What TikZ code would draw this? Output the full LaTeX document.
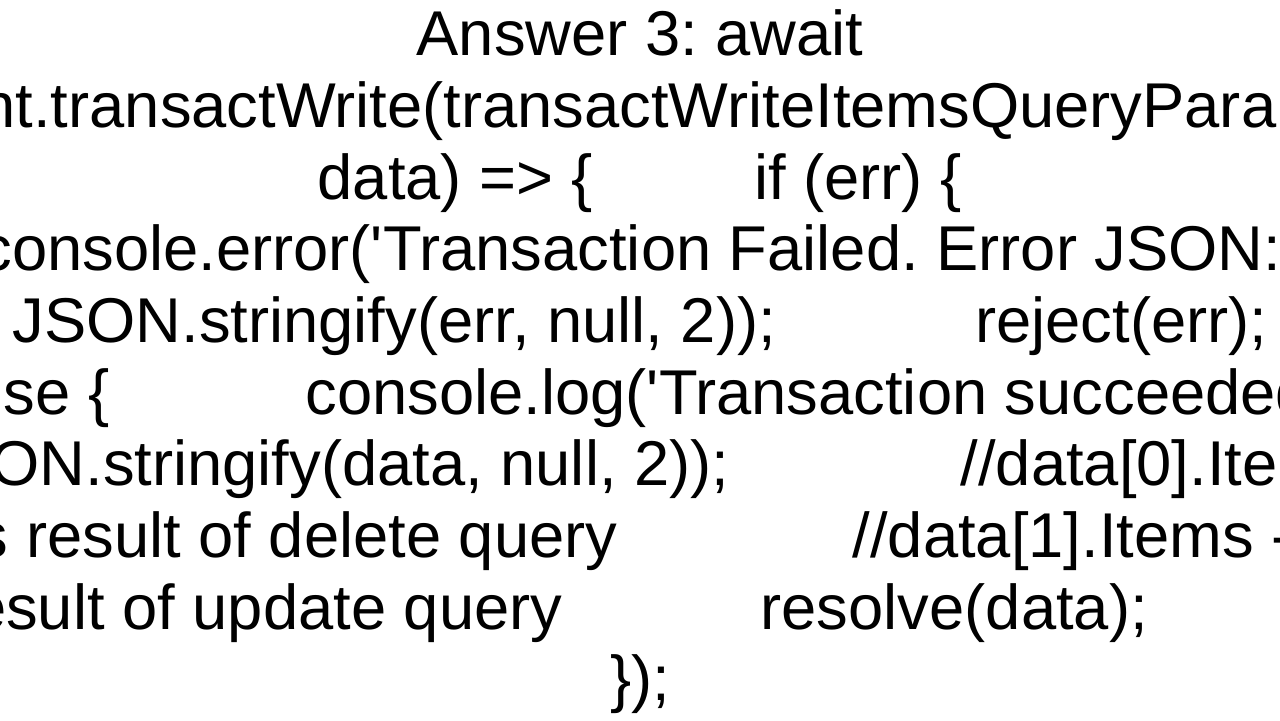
\documentclass[tikz,border=0pt]{standalone}
\usepackage{fontspec}
\setmainfont{Liberation Sans}
\frenchspacing
\tikzset{codeline/.style={inner sep=0pt,font=\fontsize{18pt}{20pt}\selectfont,anchor=base}}
\begin{document}
\begin{tikzpicture}[x=0.01cm,y=-0.01cm]
\useasboundingbox (0,0) rectangle (1280,720);
\clip (0,0) rectangle (1280,720);
\fill[white] (0,0) rectangle (1280,720);
\node[codeline] (l1) at (640,55) {Answer 3: await};
\node[codeline] (l2) at (697,127) {client.transactWrite(transactWriteItemsQueryParams, (err,};
\node[codeline] (l3a) at (455,199) {data) =>~\{};
\node[codeline] (l3b) at (858,199) {if (err) \{};
\node[codeline,anchor=base east] (l4) at (1282,270) {console.error(\textquotesingle Transaction Failed. Error JSON:};
\node[codeline,anchor=base west] (l5a) at (12,342) {JSON.stringify(err, null, 2));};
\node[codeline,anchor=base east] (l5b) at (1268,342) {reject(err);};
\node[codeline,anchor=base east] (l6a) at (110,414) {\} else \{};
\node[codeline,anchor=base west] (l6b) at (305,414) {console.log(\textquotesingle Transaction succeeded};
\node[codeline,anchor=base east] (l7a) at (730,485) {JSON.stringify(data, null, 2));};
\node[codeline,anchor=base west] (l7b) at (960,485) {//data[0].Items};
\node[codeline,anchor=base east] (l8a) at (618,557) {is result of delete query};
\node[codeline,anchor=base west] (l8b) at (852,557) {//data[1].Items -};
\node[codeline,anchor=base east] (l9a) at (563,629) {result of update query};
\node[codeline,anchor=base west] (l9b) at (760,629) {resolve(data);};
\node[codeline] (l10) at (640,700) {\});};
\end{tikzpicture}
\end{document}
